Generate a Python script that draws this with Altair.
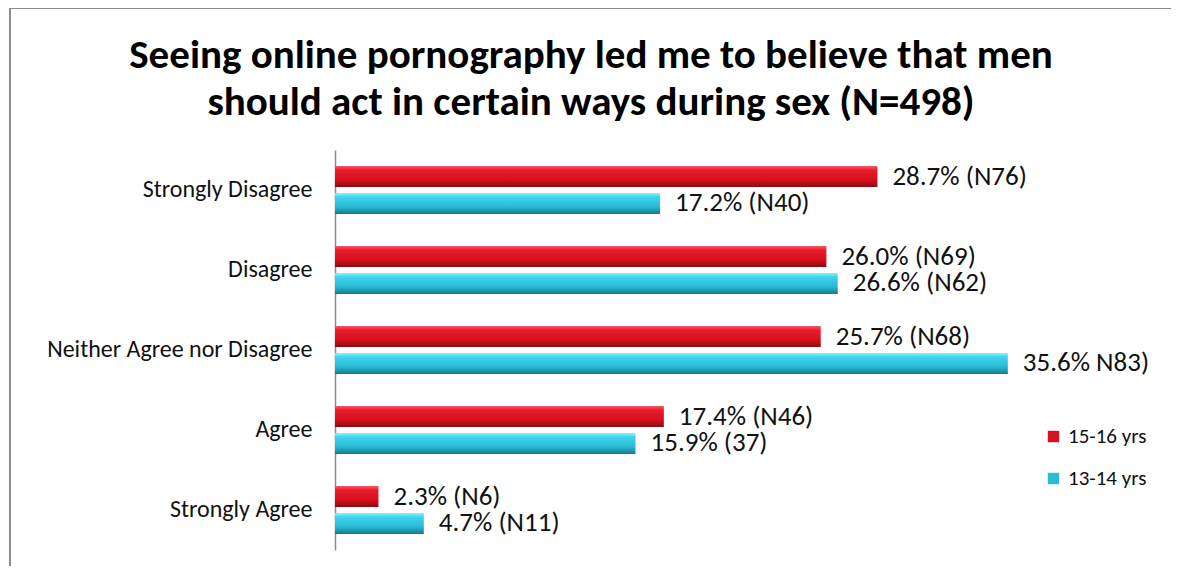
import altair as alt
import pandas as pd

categories = ["Strongly Disagree", "Disagree", "Neither Agree nor Disagree", "Agree", "Strongly Agree"]
series_names = ["15-16 yrs", "13-14 yrs"]
values_15_16 = [28.7, 26.0, 25.7, 17.4, 2.3]
values_13_14 = [17.2, 26.6, 35.6, 15.9, 4.7]
labels_15_16 = ["28.7% (N76)", "26.0% (N69)", "25.7% (N68)", "17.4% (N46)", "2.3% (N6)"]
labels_13_14 = ["17.2% (N40)", "26.6% (N62)", "35.6% N83)", "15.9% (37)", "4.7% (N11)"]
title_lines = ["Seeing online pornography led me to believe that men",
               "should act in certain ways during sex (N=498)"]

rows = []
for c, v, l in zip(categories, values_15_16, labels_15_16):
    rows.append({"category": c, "series": series_names[0], "value": v, "label": l})
for c, v, l in zip(categories, values_13_14, labels_13_14):
    rows.append({"category": c, "series": series_names[1], "value": v, "label": l})
df = pd.DataFrame(rows)

FONT = "Calibri, Carlito, Lato, sans-serif"

red_grad = alt.LinearGradient(
    gradient="linear", x1=0, y1=0, x2=0, y2=1,
    stops=[alt.GradientStop(color="#f45a66", offset=0),
           alt.GradientStop(color="#e81c2a", offset=0.2),
           alt.GradientStop(color="#d8101e", offset=0.65),
           alt.GradientStop(color="#8e0a14", offset=1)])
blue_grad = alt.LinearGradient(
    gradient="linear", x1=0, y1=0, x2=0, y2=1,
    stops=[alt.GradientStop(color="#86f2ff", offset=0),
           alt.GradientStop(color="#3cd4ee", offset=0.2),
           alt.GradientStop(color="#2cbad6", offset=0.65),
           alt.GradientStop(color="#16788e", offset=1)])

y_enc = alt.Y("category:N", sort=categories, title=None,
              scale=alt.Scale(paddingInner=0.4, paddingOuter=0.2),
              axis=alt.Axis(labelFont=FONT, labelFontSize=24, labelColor="#111111",
                            ticks=False, domainColor="#8c8c8c", domainWidth=1.5,
                            labelPadding=23, labelLimit=400))
yoff_enc = alt.YOffset("series:N", sort=series_names,
                       scale=alt.Scale(paddingInner=0.22, paddingOuter=0))
x_enc = alt.X("value:Q", scale=alt.Scale(domain=[0, 40]), axis=None)

base = alt.Chart(df).encode(y=y_enc, yOffset=yoff_enc, x=x_enc)

red_bars = base.transform_filter(alt.datum.series == series_names[0]).mark_bar(fill=red_grad, opacity=1)
blue_bars = base.transform_filter(alt.datum.series == series_names[1]).mark_bar(fill=blue_grad, opacity=1)

legend_layer = base.mark_bar(opacity=0).encode(
    color=alt.Color("series:N", sort=series_names,
                    scale=alt.Scale(domain=series_names, range=["#d9121f", "#2cbad6"]),
                    legend=alt.Legend(title=None, orient="none", legendX=708, legendY=276,
                                      symbolType="square", symbolSize=130, symbolOpacity=1,
                                      symbolStrokeWidth=0, labelFont=FONT, labelFontSize=21,
                                      labelColor="#111111", rowPadding=20, labelOffset=4))
)

text = base.mark_text(align="left", baseline="middle", dx=15, font=FONT, fontSize=27,
                      color="#111111").encode(text="label:N")

one = pd.DataFrame({"f": [1]})
frame_top = alt.Chart(one).mark_rule(stroke="#8c8c8c", strokeWidth=2, clip=False).encode(
    x=alt.value(-326), x2=alt.value(900), y=alt.value(-142))
frame_left = alt.Chart(one).mark_rule(stroke="#8c8c8c", strokeWidth=2, clip=False).encode(
    x=alt.value(-325), y=alt.value(-143), y2=alt.value(480))

title1 = alt.Chart(pd.DataFrame({"t": [title_lines[0]]})).mark_text(
    font=FONT, fontSize=41, fontWeight="bold", color="#000000", align="center",
    baseline="middle").encode(text="t:N", x=alt.value(256), y=alt.value(-94))
title2 = alt.Chart(pd.DataFrame({"t": [title_lines[1]]})).mark_text(
    font=FONT, fontSize=41, fontWeight="bold", color="#000000", align="center",
    baseline="middle").encode(text="t:N", x=alt.value(256), y=alt.value(-47))

chart = alt.layer(frame_top, frame_left, title1, title2, legend_layer, red_bars, blue_bars, text).properties(
    width=756, height=400,
    padding={"left": 327, "top": 142, "right": 80, "bottom": 16},
    autosize=alt.AutoSizeParams(type="none"),
).configure(background="white", view=alt.ViewConfig(stroke=None))

chart.save("out.html", embed_options={"renderer": "svg", "actions": False})
